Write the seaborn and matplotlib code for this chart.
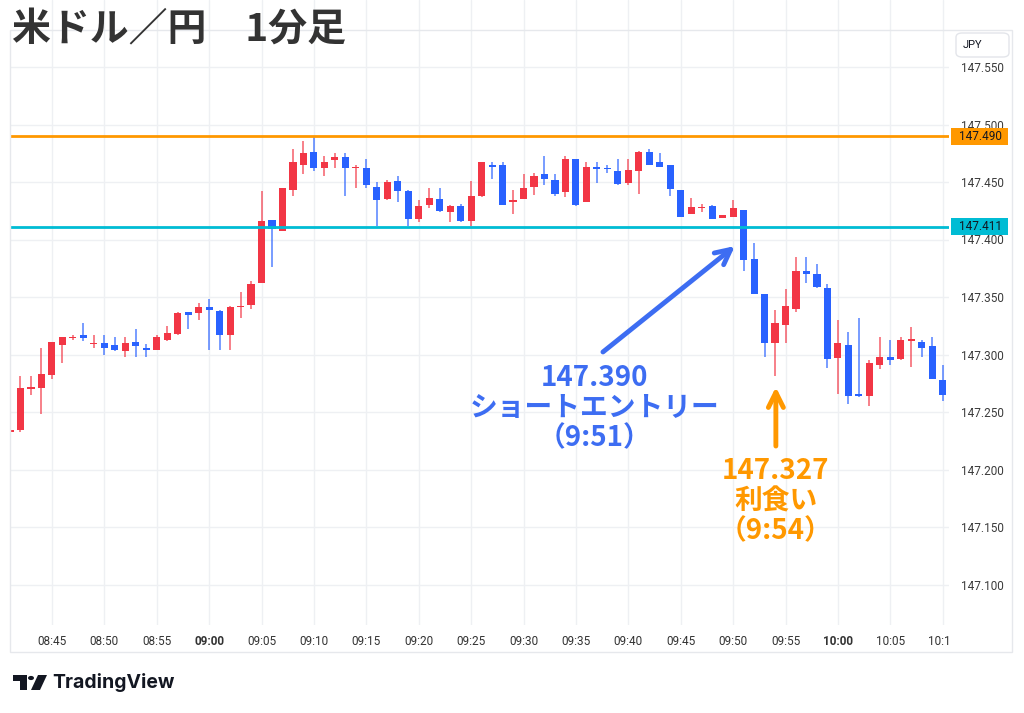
import numpy as np
import pandas as pd
import matplotlib
matplotlib.use("Agg")
import matplotlib.pyplot as plt
import seaborn as sns
from matplotlib.patches import Rectangle, Polygon, FancyBboxPatch, Circle
from matplotlib.transforms import Bbox, TransformedBbox, blended_transform_factory

# ---------------- data ----------------
times = [
    "08:41", "08:42", "08:43", "08:44", "08:45", "08:46", "08:47", "08:48", "08:49", "08:50",
    "08:51", "08:52", "08:53", "08:54", "08:55", "08:56", "08:57", "08:58", "08:59", "09:00",
    "09:01", "09:02", "09:03", "09:04", "09:05", "09:06", "09:07", "09:08", "09:09", "09:10",
    "09:11", "09:12", "09:13", "09:14", "09:15", "09:16", "09:17", "09:18", "09:19", "09:20",
    "09:21", "09:22", "09:23", "09:24", "09:25", "09:26", "09:27", "09:28", "09:29", "09:30",
    "09:31", "09:32", "09:33", "09:34", "09:35", "09:36", "09:37", "09:38", "09:39", "09:40",
    "09:41", "09:42", "09:43", "09:44", "09:45", "09:46", "09:47", "09:48", "09:49", "09:50",
    "09:51", "09:52", "09:53", "09:54", "09:55", "09:56", "09:57", "09:58", "09:59", "10:00",
    "10:01", "10:02", "10:03", "10:04", "10:05", "10:06", "10:07", "10:08", "10:09", "10:10",
]
opens = [
    147.233, 147.234, 147.270, 147.271, 147.282, 147.308, 147.314, 147.317, 147.309, 147.310,
    147.308, 147.303, 147.311, 147.306, 147.304, 147.313, 147.318, 147.337, 147.336, 147.341,
    147.338, 147.317, 147.341, 147.343, 147.362, 147.417, 147.407, 147.443, 147.465, 147.476,
    147.462, 147.469, 147.472, 147.462, 147.462, 147.446, 147.435, 147.451, 147.442, 147.418,
    147.430, 147.435, 147.424, 147.429, 147.416, 147.438, 147.465, 147.465, 147.433, 147.435,
    147.446, 147.457, 147.452, 147.441, 147.470, 147.433, 147.463, 147.462, 147.460, 147.449,
    147.460, 147.476, 147.467, 147.465, 147.443, 147.422, 147.427, 147.429, 147.419, 147.420,
    147.426, 147.383, 147.353, 147.310, 147.326, 147.340, 147.373, 147.370, 147.358, 147.297,
    147.308, 147.266, 147.264, 147.291, 147.298, 147.296, 147.312, 147.311, 147.307, 147.278,
]
highs = [
    147.238, 147.281, 147.281, 147.306, 147.311, 147.315, 147.317, 147.327, 147.317, 147.317,
    147.315, 147.315, 147.322, 147.309, 147.317, 147.325, 147.337, 147.337, 147.345, 147.348,
    147.339, 147.342, 147.354, 147.364, 147.442, 147.417, 147.445, 147.479, 147.486, 147.490,
    147.473, 147.475, 147.475, 147.465, 147.470, 147.450, 147.452, 147.455, 147.443, 147.434,
    147.445, 147.445, 147.430, 147.431, 147.451, 147.467, 147.467, 147.467, 147.443, 147.457,
    147.458, 147.473, 147.457, 147.473, 147.470, 147.467, 147.467, 147.465, 147.470, 147.470,
    147.477, 147.479, 147.475, 147.465, 147.443, 147.436, 147.431, 147.430, 147.421, 147.434,
    147.426, 147.397, 147.353, 147.339, 147.357, 147.385, 147.385, 147.379, 147.361, 147.330,
    147.320, 147.332, 147.295, 147.315, 147.313, 147.315, 147.324, 147.313, 147.315, 147.291,
]
lows = [
    147.226, 147.233, 147.265, 147.248, 147.279, 147.293, 147.313, 147.312, 147.306, 147.300,
    147.303, 147.298, 147.298, 147.298, 147.304, 147.312, 147.317, 147.322, 147.330, 147.304,
    147.304, 147.304, 147.332, 147.340, 147.362, 147.376, 147.407, 147.438, 147.457, 147.460,
    147.455, 147.462, 147.438, 147.445, 147.445, 147.412, 147.434, 147.433, 147.412, 147.415,
    147.427, 147.424, 147.415, 147.415, 147.412, 147.437, 147.453, 147.430, 147.422, 147.435,
    147.439, 147.447, 147.438, 147.437, 147.429, 147.433, 147.449, 147.458, 147.447, 147.447,
    147.440, 147.465, 147.463, 147.438, 147.420, 147.422, 147.424, 147.418, 147.419, 147.420,
    147.373, 147.353, 147.298, 147.281, 147.310, 147.337, 147.362, 147.358, 147.288, 147.266,
    147.257, 147.263, 147.255, 147.287, 147.291, 147.295, 147.289, 147.298, 147.279, 147.260,
]
closes = [
    147.234, 147.271, 147.272, 147.283, 147.311, 147.315, 147.315, 147.314, 147.310, 147.306,
    147.304, 147.310, 147.307, 147.304, 147.315, 147.319, 147.336, 147.334, 147.341, 147.339,
    147.317, 147.341, 147.342, 147.361, 147.416, 147.409, 147.445, 147.467, 147.475, 147.462,
    147.467, 147.472, 147.462, 147.463, 147.447, 147.434, 147.450, 147.442, 147.418, 147.429,
    147.436, 147.425, 147.429, 147.416, 147.438, 147.467, 147.463, 147.430, 147.434, 147.445,
    147.455, 147.453, 147.440, 147.470, 147.430, 147.463, 147.461, 147.461, 147.448, 147.460,
    147.476, 147.465, 147.463, 147.444, 147.420, 147.428, 147.428, 147.418, 147.421, 147.427,
    147.382, 147.353, 147.310, 147.327, 147.342, 147.373, 147.370, 147.359, 147.296, 147.310,
    147.264, 147.264, 147.293, 147.298, 147.295, 147.313, 147.313, 147.306, 147.279, 147.265,
]

time_ticks = ["08:45", "08:50", "08:55", "09:00", "09:05", "09:10", "09:15", "09:20", "09:25",
              "09:30", "09:35", "09:40", "09:45", "09:50", "09:55", "10:00", "10:05", "10:10"]
bold_ticks = ["09:00", "10:00"]
price_ticks = [147.100, 147.150, 147.200, 147.250, 147.300, 147.350, 147.400, 147.450, 147.500, 147.550]

level_lines = [147.490, 147.411]
level_colors = ["#FF9800", "#00BCD4"]

title = "米ドル／円　1分足"
entry_label = "147.390\nショートエントリー\n（9:51）"
exit_label = "147.327\n利食い\n（9:54）"

UP = "#F23645"
DOWN = "#2962FF"
BLUE_TXT = "#3D6DF2"
ORANGE_TXT = "#FF9800"

# ---------------- figure ----------------
sns.set_theme(style="white")
plt.rcParams["font.family"] = ["Roboto", "Noto Sans CJK JP", "DejaVu Sans"]

W, H = 1024, 713
fig = plt.figure(figsize=(W / 100, H / 100), dpi=100)
fig.patch.set_facecolor("white")

def fx(px):
    return px / W

def fy(py):
    return 1 - py / H

ax = fig.add_axes([fx(10), fy(625), fx(949) - fx(10), fy(0) - fy(625)])
ax.set_facecolor("white")

df = pd.DataFrame({"time": times, "open": opens, "high": highs, "low": lows, "close": closes})
df["x"] = np.arange(len(df))
df["up"] = df["close"] >= df["open"]
colors = np.where(df["up"], UP, DOWN)

body_lo = np.minimum(df["open"], df["close"])
body_h = np.maximum(np.abs(df["close"] - df["open"]), 0.0012)

ax.vlines(df["x"], df["low"], df["high"], colors=colors, lw=1.1, alpha=0.8, zorder=3)
ax.bar(df["x"], body_h, bottom=body_lo, width=0.68, color=colors, linewidth=0, zorder=4)

for lv, lc in zip(level_lines, level_colors):
    ax.axhline(lv, color=lc, lw=2, zorder=5)

ax.set_xlim(0.0, 89.6)
ax.set_ylim(147.550 - 558 / 1150, 147.550 + 67 / 1150)

tick_pos = [times.index(t) for t in time_ticks]
ax.set_xticks(tick_pos)
ax.set_xticklabels(time_ticks)
ax.set_yticks(price_ticks)
ax.set_yticklabels([f"{p:.3f}" for p in price_ticks])
ax.yaxis.tick_right()
ax.tick_params(axis="x", length=0, pad=7, labelsize=8.5, labelcolor="#333333")
ax.tick_params(axis="y", length=0, pad=8.5, labelsize=8.5, labelcolor="#3b3b3b")
ax.grid(True, color="#eef0f3", lw=1)
for s in ax.spines.values():
    s.set_visible(False)

clipbox = TransformedBbox(Bbox([[0, 0], [fx(949), 1]]), fig.transFigure)
for lbl in ax.get_xticklabels():
    if lbl.get_text() in bold_ticks:
        lbl.set_fontweight("bold")
    lbl.set_clip_on(True)
    lbl.set_clip_box(clipbox)

# price label boxes on the axis
btr = blended_transform_factory(fig.transFigure, ax.transData)
box_h = 17 / 1150
for lv, lc in zip(level_lines, level_colors):
    fig.patches.append(Rectangle((fx(951), lv - box_h / 2), fx(1008) - fx(951), box_h,
                                 transform=btr, facecolor=lc, edgecolor="none", zorder=10))
    fig.text(fx(980), lv, f"{lv:.3f}", transform=btr, ha="center", va="center",
             fontsize=8.5, color="#131722", zorder=11)

# JPY box
fig.patches.append(FancyBboxPatch((fx(956), fy(57)), fx(1009) - fx(956), fy(33) - fy(57),
                                  boxstyle="round,pad=0,rounding_size=0.006",
                                  transform=fig.transFigure, facecolor="white",
                                  edgecolor="#e3e5ea", lw=1, zorder=10))
fig.text(fx(963), fy(45), "JPY", ha="left", va="center", fontsize=8, color="#131722", zorder=11)

# outer panel border
fig.patches.append(Rectangle((fx(10), fy(652)), fx(1012) - fx(10), fy(30) - fy(652),
                             transform=fig.transFigure, fill=False, edgecolor="#e6e8ec", lw=1, zorder=1))

# annotations
ax.annotate("", xy=(69.17, 147.3943), xytext=(56.58, 147.3022),
            arrowprops=dict(arrowstyle="->,head_length=0.9,head_width=0.45",
                            color=BLUE_TXT, lw=3.5, shrinkA=0, shrinkB=0),
            zorder=8)
ax.text(55.74, 147.2535, entry_label, ha="center", va="center", multialignment="center",
        fontsize=20, fontweight="bold", color=BLUE_TXT, linespacing=1.1,
        family=["Noto Sans CJK JP", "DejaVu Sans"], zorder=8)

ax.annotate("", xy=(73.08, 147.2717), xytext=(73.08, 147.2204),
            arrowprops=dict(arrowstyle="->,head_length=0.9,head_width=0.45",
                            color=ORANGE_TXT, lw=3.5, shrinkA=0, shrinkB=0),
            zorder=8)
ax.text(73.06, 147.1722, exit_label, ha="center", va="center", multialignment="center",
        fontsize=20, fontweight="bold", color=ORANGE_TXT, linespacing=1.1,
        family=["Noto Sans CJK JP", "DejaVu Sans"], zorder=8)

# title
fig.text(fx(12), fy(30), title, ha="left", va="center", fontsize=28, fontweight="bold",
         color="#333333", family=["Noto Sans CJK JP", "DejaVu Sans"], zorder=12)

# TradingView logo
tf = fig.transFigure
def P(pts):
    return [(fx(a), fy(b)) for a, b in pts]
fig.patches.append(Polygon(P([(13, 675), (27, 675), (27, 690), (20, 690), (20, 681), (13, 681)]),
                           closed=True, transform=tf, facecolor="#131722", edgecolor="none"))
fig.patches.append(Circle((fx(31), fy(678)), 3 / W, transform=tf, facecolor="#131722", edgecolor="none"))
fig.patches.append(Polygon(P([(38, 675), (47, 675), (40, 690), (31, 690)]),
                           closed=True, transform=tf, facecolor="#131722", edgecolor="none"))
fig.text(fx(52), fy(683), "TradingView", ha="left", va="center", fontsize=14,
         fontweight="bold", color="#131722", family=["Inter", "DejaVu Sans"])

fig.savefig("out.png", dpi=100, facecolor="white")
